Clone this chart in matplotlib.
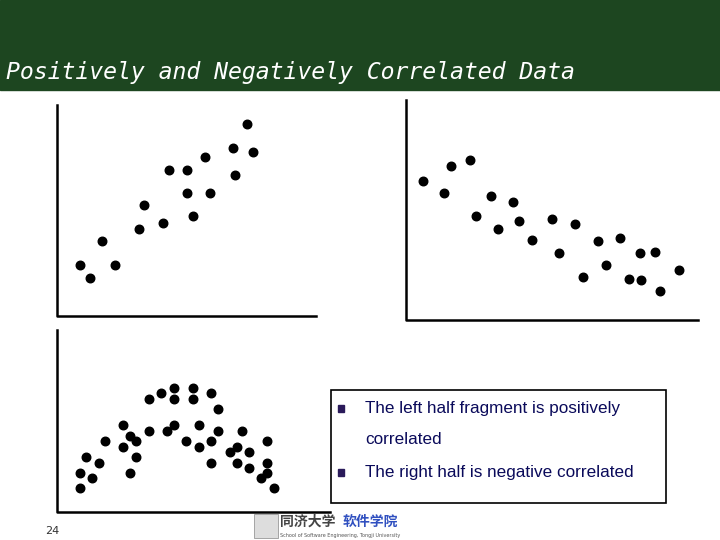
import matplotlib
matplotlib.use("Agg")
import matplotlib.pyplot as plt
from matplotlib.patches import Rectangle

# positive panel points (slide pixel coords)
pos_x = [80, 90, 102, 115, 139, 144, 163, 169, 187, 187, 193, 205, 210, 233, 235, 247, 253]
pos_y = [265, 278, 241, 265, 229, 205, 223, 170, 170, 193, 216, 157, 193, 148, 175, 124, 152]
# negative panel points
neg_x = [423, 444, 451, 470, 476, 491, 498, 513, 519, 532, 552, 559, 575, 583, 598, 606, 620, 629, 640, 641, 655, 660, 679]
neg_y = [181, 193, 166, 160, 216, 196, 229, 202, 221, 240, 219, 253, 224, 277, 241, 265, 238, 279, 253, 280, 252, 291, 270]
# curved (up-then-down) panel points
cur_x = [80, 80, 86, 92, 99, 105, 123, 123, 130, 130, 136, 136, 149, 149, 161, 167, 174, 174, 174,
         186, 193, 193, 199, 199, 211, 211, 211, 218, 218, 230, 237, 237, 242, 249, 249, 261, 267, 267, 267, 274]
cur_y = [488, 473, 457, 478, 463, 441, 425, 447, 436, 473, 441, 457, 399, 431, 393, 431, 388, 399, 425,
         441, 388, 399, 425, 447, 393, 441, 463, 409, 431, 452, 447, 463, 431, 452, 468, 478, 441, 463, 473, 488]

title = "Positively and Negatively Correlated Data"
bullets = ["The left half fragment is positively", "correlated", "The right half is negative correlated"]

fig = plt.figure(figsize=(7.2, 5.4), dpi=100)
ax = fig.add_axes([0, 0, 1, 1])
ax.set_xlim(0, 720)
ax.set_ylim(540, 0)
ax.axis("off")

ax.add_patch(Rectangle((0, 0), 720, 90, color="#1d4620", zorder=0))
ax.text(6, 79, title, color="white", fontsize=16.7, family="DejaVu Sans Mono",
        style="italic", va="baseline", ha="left")

lw = 1.8
ax.plot([57, 57, 316], [105, 316, 316], color="black", lw=lw)
ax.plot([406, 406, 698], [100, 320, 320], color="black", lw=lw)
ax.plot([57, 57, 330], [330, 512, 512], color="black", lw=lw)

ms = 38
ax.scatter(pos_x, pos_y, s=ms, color="black", zorder=3)
ax.scatter(neg_x, neg_y, s=ms, color="black", zorder=3)
ax.scatter(cur_x, cur_y, s=ms, color="black", zorder=3)

ax.add_patch(Rectangle((331, 390), 335, 113, fill=False, ec="black", lw=1.2, zorder=2))
tc = "#0a0a5a"
ax.add_patch(Rectangle((338, 405), 6, 7, color="#2a1a5a"))
ax.add_patch(Rectangle((338, 469), 6, 7, color="#2a1a5a"))
ax.text(365, 409, bullets[0], fontsize=12.3, family="Liberation Sans", color=tc, va="center")
ax.text(365, 439, bullets[1], fontsize=12.3, family="Liberation Sans", color=tc, va="center")
ax.text(365, 473, bullets[2], fontsize=12.3, family="Liberation Sans", color=tc, va="center")

ax.text(45, 531, "24", fontsize=8, color="#333333", va="center")
ax.text(280, 522, "同济大学", fontsize=10, family="Noto Sans CJK SC", weight="bold", color="#444444", va="center")
ax.text(343, 522, "软件学院", fontsize=10, family="Noto Sans CJK SC", weight="bold", color="#3050c0", va="center")
ax.text(280, 535, "School of Software Engineering, Tongji University", fontsize=3.5, color="#555555", va="center")
ax.add_patch(Rectangle((254, 514), 24, 24, fc="#dddddd", ec="#888888", lw=0.5))

fig.savefig("out.png", dpi=100)
